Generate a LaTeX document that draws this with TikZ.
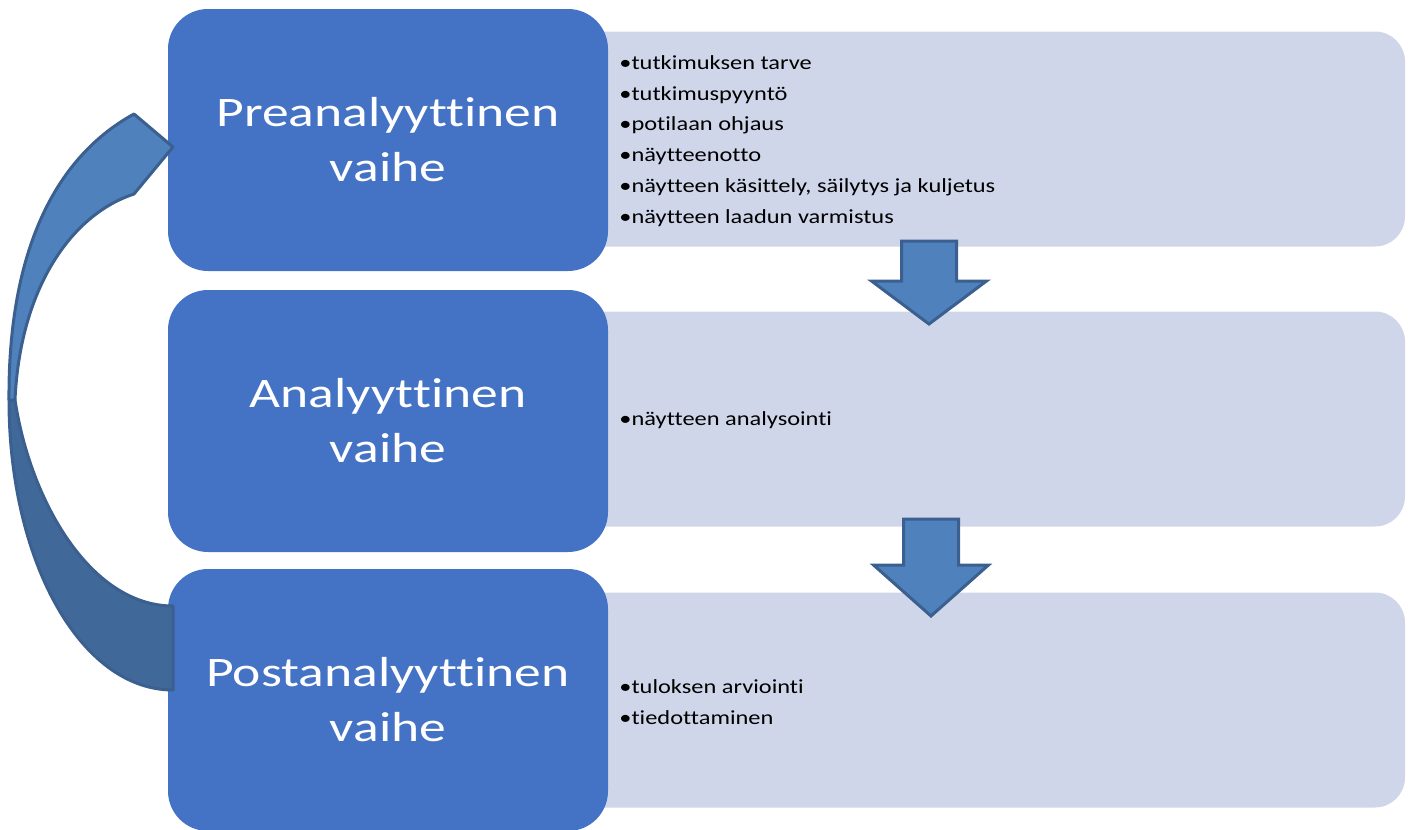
\documentclass[tikz,border=0pt]{standalone}
\usepackage{fontspec}
\setmainfont{Carlito}[Ligatures=NoCommon]
\newfontfamily\phasefont{Carlito}[Ligatures=NoCommon,FakeStretch=1.275]
\newfontfamily\itemfont{Carlito}[Ligatures=NoCommon,FakeStretch=1.22]
\usepackage{tikz}
\definecolor{phaseblue}{HTML}{4472C4}
\definecolor{itemgray}{HTML}{CFD6EA}
\definecolor{arrowfill}{HTML}{4F81BD}
\definecolor{arrowline}{HTML}{3B5F8F}
\definecolor{arrowback}{HTML}{40699A}

\begin{document}
\begin{tikzpicture}[x=0.5pt,y=-0.5pt,
  phase/.style={fill=phaseblue,rounded corners=20pt,minimum width=220pt,minimum height=131pt,
    text=white,font=\phasefont\fontsize{21}{27.5}\selectfont,align=center,inner sep=0pt},
  itembox/.style={fill=itemgray,rounded corners=15pt,minimum width=417.5pt,minimum height=107.5pt,inner sep=0pt},
  itemtext/.style={anchor=west,align=left,font=\itemfont\fontsize{10}{15.4}\selectfont,inner sep=0pt},
  blockarrow/.style={fill=arrowfill,draw=arrowline,line width=1.5pt,line join=miter}]
	\useasboundingbox (0,0) rectangle (1410,830);
	% light boxes with the item lists
	\node[itembox] (preitems) at (987.5,139) {};
	\node[itembox] (anaitems) at (987.5,419) {};
	\node[itembox] (postitems) at (987.5,700) {};
	\node[itemtext] (prelist) at (619,141) {\textbullet tutkimuksen tarve\\\textbullet tutkimuspyyntö\\\textbullet potilaan ohjaus\\\textbullet näytteenotto\\\textbullet näytteen käsittely, säilytys ja kuljetus\\\textbullet näytteen laadun varmistus};
	\node[itemtext] (analist) at (619,420) {\textbullet näytteen analysointi};
	\node[itemtext] (postlist) at (619,702) {\textbullet tuloksen arviointi\\\textbullet tiedottaminen};
	% phases
	\node[phase] (pre) at (388,140) {Preanalyyttinen\\vaihe};
	\node[phase] (ana) at (388,421) {Analyyttinen\\vaihe};
	\node[phase] (post) at (388,700) {Postanalyyttinen\\vaihe};
	% down arrows
	\foreach \cx/\ytop/\ywing/\ytip in {929/241/281/324, 931/519/565/616}
		\draw[blockarrow] (\cx-27.5,\ytop) -- (\cx+27.5,\ytop) -- (\cx+27.5,\ywing) -- (\cx+57.5,\ywing)
			-- (\cx,\ytip) -- (\cx-57.5,\ywing) -- (\cx-27.5,\ywing) -- cycle;
	% curved arrow back to the first phase
	\filldraw[fill=arrowback,draw=arrowline,line width=1.5pt,line join=round]
		(9,400) .. controls (9,560) and (80,690) .. (173,690) -- (173,606)
		.. controls (90,606) and (30,500) .. (15,400) -- cycle;
	\filldraw[fill=arrowfill,draw=arrowline,line width=1.5pt,line join=round]
		(134,114) -- (173,147) -- (134,194) .. controls (70,215) and (20,290) .. (15,400)
		-- (9,400) .. controls (8,260) and (50,160) .. (134,114) -- cycle;
\end{tikzpicture}
\end{document}
